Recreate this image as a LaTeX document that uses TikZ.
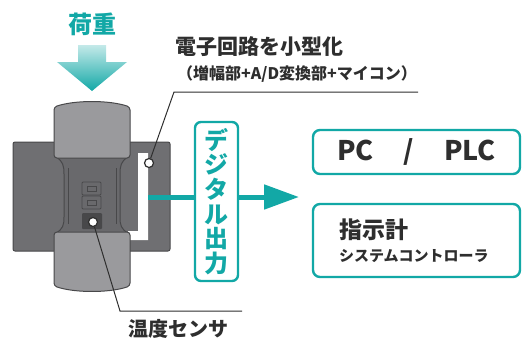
\documentclass[tikz,border=0pt]{standalone}
\usepackage{fontspec}
\setmainfont{Noto Sans CJK JP}
\usetikzlibrary{arrows,arrows.meta,shapes,positioning}

\definecolor{tealc}{HTML}{12A8A6}
\definecolor{plate}{HTML}{6F6F72}
\definecolor{capgray}{HTML}{9A9A9D}
\definecolor{neck}{HTML}{69696C}
\definecolor{edge}{HTML}{48484A}
\definecolor{ink}{HTML}{2E2E2E}

\begin{document}
\begin{tikzpicture}[
        x=1pt, y=-1pt,
        every node/.style={text=ink, inner sep=0pt},
        body/.style={draw=edge, line width=1pt},
        leader/.style={draw=ink, line width=1pt},
        dot/.style={circle, draw=ink, fill=white, line width=1.2pt, minimum size=9pt},
        wire/.style={draw=tealc, line width=5pt},
        outbox/.style={draw=tealc, fill=white, rounded corners=6pt, line width=2.4pt,
            minimum width=43pt, minimum height=159pt, text=tealc, align=center,
            font=\fontsize{24}{24.7}\selectfont\bfseries},
        dest/.style={draw=tealc, fill=white, rounded corners=7pt, line width=2.4pt,
            minimum width=207pt}
    ]
    \useasboundingbox (0,0) rectangle (522,338);

    % Load arrow
    \node[text=tealc, font=\fontsize{24}{24}\selectfont\bfseries] (load) at (92,24) {荷重};
    \shade[top color=tealc!25, bottom color=tealc]
        (78,45) -- (106,45) -- (106,62) -- (127,62) -- (92,91) -- (57,62) -- (78,62) -- cycle;

    % Load cell body
    \draw[body, fill=plate, rounded corners=2pt] (13,142) rectangle (170,251);
    \fill[white] (138,153) -- (148,153) -- (148,240) -- (128,240) -- (128,231) -- (138,231) -- cycle;
    \draw[body, fill=neck] (56,157) .. controls (63,161) and (64,166) .. (64,174)
        -- (64,217) .. controls (64,225) and (63,229) .. (56,233)
        -- (128,233) .. controls (121,229) and (120,225) .. (120,217)
        -- (120,174) .. controls (120,166) and (121,161) .. (128,157) -- cycle;
    \draw[edge, line width=0.8pt] (68,168) -- (68,224) (116,168) -- (116,224);
    \draw[body, fill=capgray, rounded corners=3pt]
        (54,107) .. controls (75,100) and (109,100) .. (130,107)
        -- (130,158) -- (54,158) -- cycle;
    \draw[body, fill=capgray, rounded corners=3pt]
        (54,232) -- (130,232) -- (130,286)
        .. controls (109,293) and (75,293) .. (54,286) -- cycle;
    \foreach \y in {182,196} {
        \draw[edge, fill=neck, rounded corners=1pt, line width=0.8pt] (82,\y) rectangle (101,\y+13);
        \draw[edge, line width=0.8pt] (87,\y+4) rectangle (96,\y+9);
    }
    \fill[edge, rounded corners=1pt] (82,213) rectangle (102,229);

    % Nodes
    \node[dot] (board) at (149,163) {};
    \node[dot] (sensor) at (93,222) {};
    \coordinate (boardbend) at (174,92);
    \coordinate (boardend) at (418,92);
    \coordinate (sensorbend) at (120,311);
    \coordinate (sensorend) at (242,311);
    \coordinate (pcb) at (148,197);
    \coordinate (tip) at (299,197);

    \node[font=\fontsize{21}{21}\selectfont\bfseries] (circuit) at (259,47) {電子回路を小型化};
    \node[font=\fontsize{16}{16}\selectfont\bfseries] (parts) at (297,74) {（増幅部+A/D変換部+マイコン）};
    \node[font=\fontsize{20}{20}\selectfont\bfseries] (sensorlabel) at (178,329) {温度センサ};

    \node[outbox] (digital) at (216.5,201.5) {デ\\ジ\\タ\\ル\\出\\力};

    \node[dest, minimum height=44pt, font=\fontsize{27}{27}\selectfont\bfseries]
        (pc) at (416.5,152) {PC\hspace{30pt}/\hspace{30pt}PLC};
    \node[dest, minimum height=73pt, inner xsep=26pt, text width=155pt, align=left]
        (meter) at (416.5,240.5)
        {{\fontsize{23}{26}\selectfont\bfseries 指示計}\\[8pt]
         {\fontsize{15}{15}\selectfont\bfseries システムコントローラ}};

    % Edges
    \draw[leader] (board) -- (boardbend) -- (boardend);
    \draw[leader] (sensor) -- (sensorbend) -- (sensorend);
    \draw[wire] (pcb) -- (digital.west |- pcb);
    \draw[wire, -{Triangle[length=35pt, width=24pt]}] (digital.east |- pcb) -- (tip);

\end{tikzpicture}
\end{document}
